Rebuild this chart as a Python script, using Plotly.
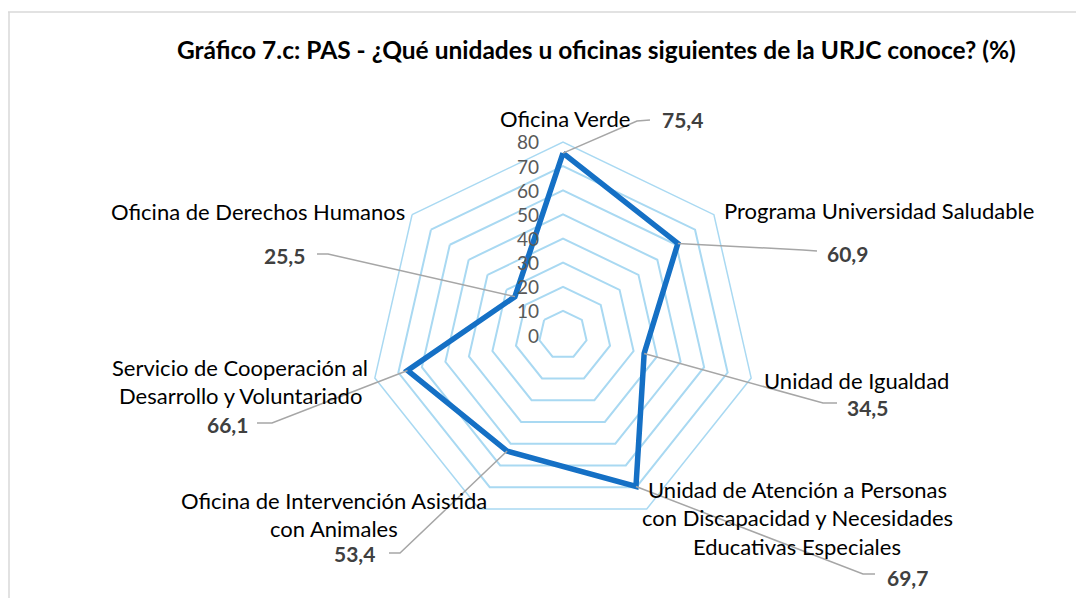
import math
import plotly.graph_objects as go

# ---------------- data ----------------
categories = [
    "Oficina Verde",
    "Programa Universidad Saludable",
    "Unidad de Igualdad",
    "Unidad de Atención a Personas con Discapacidad y Necesidades Educativas Especiales",
    "Oficina de Intervención Asistida con Animales",
    "Servicio de Cooperación al Desarrollo y Voluntariado",
    "Oficina de Derechos Humanos",
]
category_lines = [
    ["Oficina Verde"],
    ["Programa Universidad Saludable"],
    ["Unidad de Igualdad"],
    ["Unidad de Atención a Personas", "con Discapacidad y Necesidades", "Educativas Especiales"],
    ["Oficina de Intervención Asistida", "con Animales"],
    ["Servicio de Cooperación al", "Desarrollo y Voluntariado"],
    ["Oficina de Derechos Humanos"],
]
values = [75.4, 60.9, 34.5, 69.7, 53.4, 66.1, 25.5]
radial_ticks = [0, 10, 20, 30, 40, 50, 60, 70, 80]
title_text = "Gráfico 7.c: PAS - ¿Qué unidades u oficinas siguientes de la URJC conoce? (%)"

# ---------------- layout geometry (screen pixels) ----------------
W, H = 1084, 598
OX, OY = 8, 8            # page body margin offset of the figure
CX, CY, RPX = 563, 335, 193
RMAX = radial_ticks[-1]
FONT = "Lato"
SERIES_COLOR = "#1570C5"
GRID_COLOR = "#A9D9F2"
LEADER_COLOR = "#A6A6A6"

# category label placement: (x, first line y, xanchor)
cat_pos = [(565, 118, "center"), (722, 210, "left"), (762, 380, "left"),
           (797, 489, "center"), (334, 500, "center"), (240, 367, "center"),
           (407, 211, "right")]
LINE_H = 28.5
# value label placement: (x, y, xanchor), leader elbow, leader end
val_pos = [(660, 120, "left"), (825, 253, "left"), (845, 407, "left"),
           (885, 577, "left"), (377, 553, "right"), (250, 424, "right"),
           (307, 255, "right")]
elbows = [(637, 121), (803, 250), (823, 403), (863, 574), (400, 553), (272, 423), (328, 254)]
ends = [(650, 120), (817, 251), (837, 403), (875, 574), (389, 553), (257, 423), (317, 254)]


def px(x):
    return (x - OX) / W


def py(y):
    return 1 - (y - OY) / H


def point_px(r, i):
    th = math.radians(90 - i * 360 / len(categories))
    rr = r / RMAX * RPX
    return CX + rr * math.cos(th), CY - rr * math.sin(th)


fig = go.Figure()
fig.add_trace(go.Scatterpolar(
    r=values + [values[0]],
    theta=categories + [categories[0]],
    mode="lines",
    line=dict(color=SERIES_COLOR, width=5.5),
    hoverinfo="skip",
    showlegend=False,
))

annotations = []
shapes = []

# title
annotations.append(dict(
    x=px(596), y=py(50), xref="paper", yref="paper", showarrow=False,
    text="<b>" + title_text + "</b>", xanchor="center", yanchor="middle",
    font=dict(family=FONT, size=24.5, color="#000000"),
))

# radial tick labels
for t in radial_ticks:
    annotations.append(dict(
        x=px(CX - 22), y=py(CY - t / RMAX * RPX), xref="paper", yref="paper",
        text=str(t), showarrow=False, xanchor="right", yanchor="middle",
        font=dict(family=FONT, size=19, color="#595959"),
    ))

# category labels
for lines, (x, y0, anc) in zip(category_lines, cat_pos):
    for k, line in enumerate(lines):
        annotations.append(dict(
            x=px(x), y=py(y0 + k * LINE_H), xref="paper", yref="paper",
            text=line, showarrow=False, xanchor=anc, yanchor="middle",
            font=dict(family=FONT, size=22, color="#000000"),
        ))

# value labels and leader lines
for i, v in enumerate(values):
    x, y, anc = val_pos[i]
    annotations.append(dict(
        x=px(x), y=py(y), xref="paper", yref="paper",
        text="<b>" + f"{v:.1f}".replace(".", ",") + "</b>", showarrow=False,
        xanchor=anc, yanchor="middle",
        font=dict(family=FONT, size=21, color="#404040"),
    ))
    sx, sy = point_px(v, i)
    ex, ey = elbows[i]
    fx, fy = ends[i]
    shapes.append(dict(
        type="path", xref="paper", yref="paper",
        path=f"M {px(sx)} {py(sy)} L {px(ex)} {py(ey)} L {px(fx)} {py(fy)}",
        line=dict(color=LEADER_COLOR, width=1.5),
    ))

# chart-area border (top and left visible)
shapes.append(dict(type="line", xref="paper", yref="paper", x0=px(8), x1=px(1083),
                   y0=py(12), y1=py(12), line=dict(color="#D9D9D9", width=1.5)))
shapes.append(dict(type="line", xref="paper", yref="paper", x0=px(9), x1=px(9),
                   y0=py(12), y1=py(600), line=dict(color="#D9D9D9", width=1.5)))

fig.update_layout(
    width=W, height=H,
    margin=dict(l=0, r=0, t=0, b=0),
    paper_bgcolor="white",
    plot_bgcolor="white",
    polar=dict(
        domain=dict(x=[px(CX - RPX), px(CX + RPX)], y=[py(CY + RPX), py(CY - RPX)]),
        bgcolor="white",
        gridshape="linear",
        radialaxis=dict(
            range=[0, RMAX], tickvals=radial_ticks, showline=False,
            showticklabels=False, ticks="",
            gridcolor=GRID_COLOR, gridwidth=1.5, angle=90,
        ),
        angularaxis=dict(
            direction="clockwise", rotation=90, showticklabels=False,
            showgrid=False, ticks="", showline=True,
            linecolor=GRID_COLOR, linewidth=1.5,
            categoryarray=categories, type="category",
        ),
    ),
    annotations=annotations,
    shapes=shapes,
)

fig.write_html("out.html")
